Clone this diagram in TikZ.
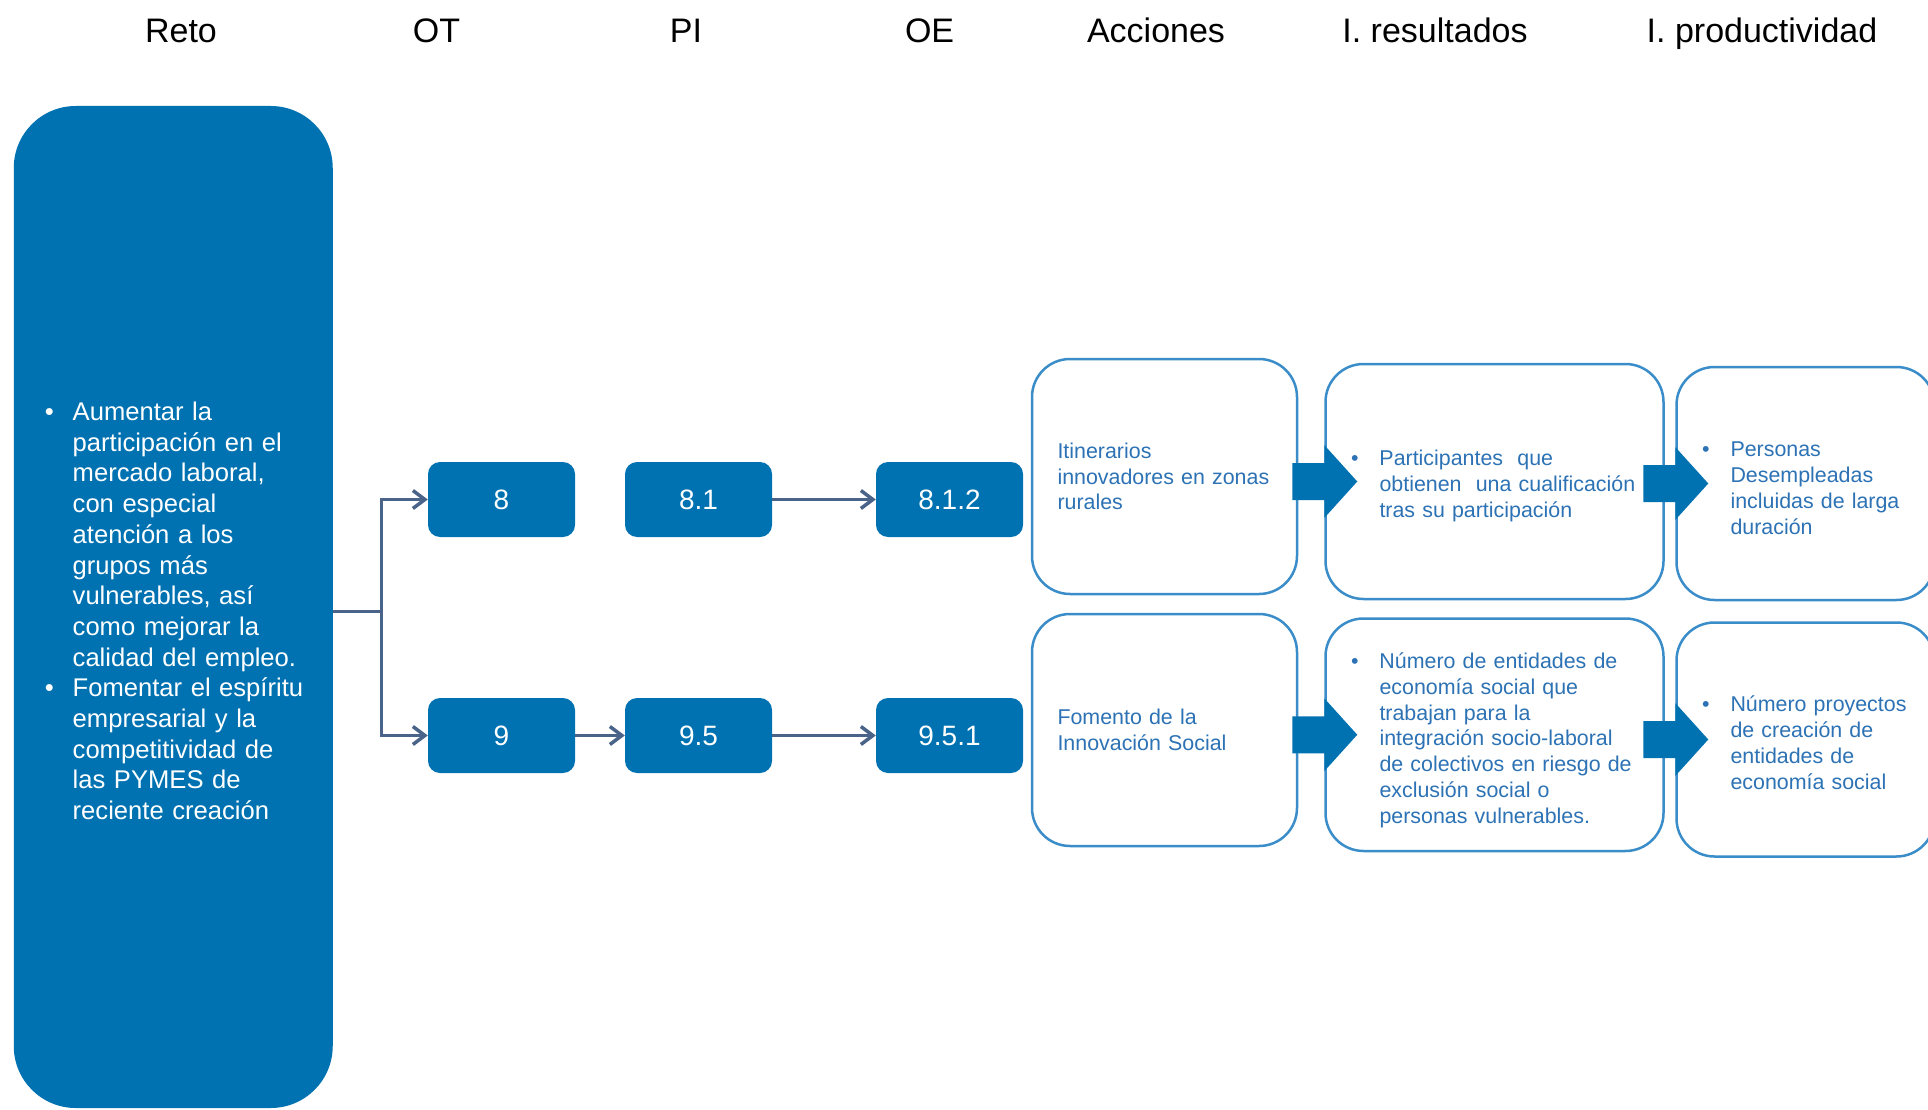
\documentclass[tikz,border=0pt]{standalone}
\usepackage{fontspec}
\setmainfont{Liberation Sans}
\usetikzlibrary{arrows.meta}
\definecolor{retoblue}{HTML}{0072B1}
\definecolor{edgeblue}{HTML}{3A8DC8}
\definecolor{txtblue}{HTML}{2C72B4}
\definecolor{linkgray}{HTML}{4A6389}
\begin{document}
\begin{tikzpicture}[x=1pt,y=-1pt,
	head/.style={anchor=base,font=\fontsize{34}{40}\selectfont},
	numbox/.style={rounded corners=12pt,fill=retoblue,text=white,minimum width=147pt,minimum height=75pt,inner sep=0pt,font=\fontsize{28}{33}\selectfont},
	txtbox/.style={draw=edgeblue,line width=2.5pt,rounded corners=38pt,fill=white,text=txtblue,align=left,inner xsep=25.5pt,inner ysep=0pt,font=\fontsize{21.4}{25.8}\selectfont},
	link/.style={draw=linkgray,line width=3.5pt,-{Straight Barb[length=12pt,width=18pt]}},
	bigarrow/.style={fill=retoblue}]
	\useasboundingbox (0,0) rectangle (1928,1110);
	% column titles
	\node[head] (h1) at (181,42.5) {Reto};
	\node[head] (h2) at (436.5,42.5) {OT};
	\node[head] (h3) at (686,42.5) {PI};
	\node[head] (h4) at (929.6,42.5) {OE};
	\node[head] (h5) at (1156,42.5) {Acciones};
	\node[head] (h6) at (1435,42.5) {I. resultados};
	\node[head] (h7) at (1762,42.5) {I. productividad};
	% reto
	\node[fill=retoblue,rounded corners=62pt,minimum width=319pt,minimum height=1002pt,text width=257pt,inner xsep=31pt,text=white,align=left,font=\fontsize{25.6}{30.7}\selectfont] (reto) at (173.25,607) {%
		\raisebox{-7pt}[\height][\depth]{\begin{tabular}{@{}l@{\hspace{19pt}}l@{}}
			\textbullet & Aumentar la\\
			& participación en el\\
			& mercado laboral,\\
			& con especial\\
			& atención a los\\
			& grupos más\\
			& vulnerables, así\\
			& como mejorar la\\
			& calidad del empleo.\\
			\textbullet & Fomentar el espíritu\\
			& empresarial y la\\
			& competitividad de\\
			& las PYMES de\\
			& reciente creación
		\end{tabular}}};
	% OT, PI, OE
	\node[numbox] (ot1) at (501.5,499.5) {8};
	\node[numbox] (pi1) at (698.5,499.5) {8.1};
	\node[numbox] (oe1) at (949.5,499.5) {8.1.2};
	\node[numbox] (ot2) at (501.5,735.5) {9};
	\node[numbox] (pi2) at (698.5,735.5) {9.5};
	\node[numbox] (oe2) at (949.5,735.5) {9.5.1};
	% acciones
	\node[txtbox,text width=214pt,minimum height=235pt] (ac1) at (1164.5,476.5) {Itinerarios\\innovadores en zonas\\rurales};
	\node[txtbox,text width=214pt,minimum height=232pt] (ac2) at (1164.5,730) {Fomento de la\\Innovación Social};
	% indicadores de resultados
	\node[txtbox,text width=287pt,minimum height=235pt] (ir1) at (1494.5,481.5) {%
		\raisebox{-5pt}[\height][\depth]{\begin{tabular}{@{}l@{\hspace{21pt}}l@{}}
			\textbullet & Participantes\ \ que\\
			& obtienen\ \ una cualificación\\
			& tras su participación
		\end{tabular}}};
	\node[txtbox,text width=287pt,minimum height=232.5pt] (ir2) at (1494.5,734.75) {%
		\raisebox{-6pt}[\height][\depth]{\begin{tabular}{@{}l@{\hspace{21pt}}l@{}}
			\textbullet & Número de entidades de\\
			& economía social que\\
			& trabajan para la\\
			& integración socio-laboral\\
			& de colectivos en riesgo de\\
			& exclusión social o\\
			& personas vulnerables.
		\end{tabular}}};
	% indicadores de productividad
	\node[txtbox,text width=207pt,minimum height=233pt] (ip1) at (1805.5,483.5) {%
		\raisebox{-7pt}[\height][\depth]{\begin{tabular}{@{}l@{\hspace{21pt}}l@{}}
			\textbullet & Personas\\
			& Desempleadas\\
			& incluidas de larga\\
			& duración
		\end{tabular}}};
	\node[txtbox,text width=207pt,minimum height=234pt] (ip2) at (1805.5,739.5) {%
		\raisebox{-6pt}[\height][\depth]{\begin{tabular}{@{}l@{\hspace{21pt}}l@{}}
			\textbullet & Número proyectos\\
			& de creación de\\
			& entidades de\\
			& economía social
		\end{tabular}}};
	% connectors
	\coordinate (jn) at (381.5,611.7);
	\draw[link,-] (reto.east |- jn) -- (jn);
	\draw[link] (jn) |- (ot1);
	\draw[link] (jn) |- (ot2);
	\draw[link] (pi1) -- (oe1);
	\draw[link] (ot2) -- (pi2);
	\draw[link] (pi2) -- (oe2);
	\foreach \b in {ir1,ir2,ip1,ip2}
		\fill[bigarrow] ([xshift=-32pt]\b.west) ++(0,-18.5) -- ++(32,0) -- ++(0,-18) -- ++(33,36.5) -- ++(-33,36.5) -- ++(0,-18) -- ++(-32,0) -- cycle;
\end{tikzpicture}
\end{document}
